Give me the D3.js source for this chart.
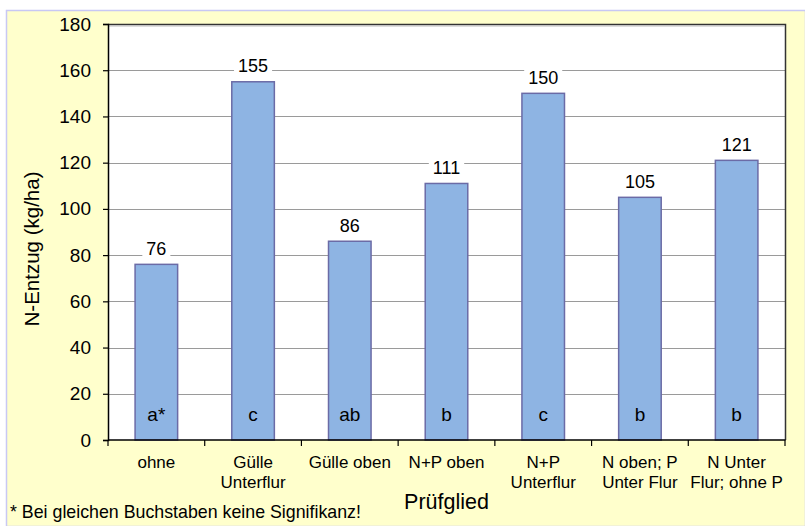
<!DOCTYPE html>
<html>
<head>
<meta charset="utf-8">
<script src="https://cdn.jsdelivr.net/npm/d3@7"></script>
<style>
  html, body { margin: 0; padding: 0; background: #ffffff; }
  svg { display: block; }
  text { font-family: "Liberation Sans", Arial, sans-serif; fill: #000; }
</style>
</head>
<body>
<svg id="chart" width="805" height="526"></svg>
<script>
// ---- data ----
const categories = ["ohne", "Gülle\nUnterflur", "Gülle oben", "N+P oben", "N+P\nUnterflur", "N oben; P\nUnter Flur", "N Unter\nFlur; ohne P"];
const values = [76, 155, 86, 111, 150, 105, 121];
const letters = ["a*", "c", "ab", "b", "c", "b", "b"];
const yTicks = [0, 20, 40, 60, 80, 100, 120, 140, 160, 180];
const yTitle = "N-Entzug (kg/ha)";
const xTitle = "Prüfglied";
const footnote = "* Bei gleichen Buchstaben keine Signifikanz!";

// ---- layout ----
const W = 805, H = 526;
const plot = { left: 108, top: 24, right: 785, bottom: 440 };
const svg = d3.select("#chart");

// chart area background
svg.append("rect")
  .attr("x", 6.5).attr("y", 10.5)
  .attr("width", W - 6).attr("height", H - 10)
  .attr("fill", "#FFFFCC")
  .attr("stroke", "#C8C8F4").attr("stroke-width", 1.5);

const x = d3.scaleBand()
  .domain(categories)
  .range([plot.left, plot.right])
  .paddingInner(0.56)
  .paddingOuter(0.28);

const y = d3.scaleLinear()
  .domain([0, 180])
  .range([plot.bottom, plot.top]);

// plot area
svg.append("rect")
  .attr("x", plot.left).attr("y", plot.top)
  .attr("width", plot.right - plot.left).attr("height", plot.bottom - plot.top)
  .attr("fill", "#ffffff");

// gridlines
svg.append("g")
  .selectAll("line")
  .data(yTicks.filter(d => d > 0 && d < 180))
  .join("line")
  .attr("x1", plot.left).attr("x2", plot.right)
  .attr("y1", d => Math.round(y(d)) + 0.5).attr("y2", d => Math.round(y(d)) + 0.5)
  .attr("stroke", "#9a9a9a").attr("stroke-width", 1.2);

// plot border top & right (shadowed)
svg.append("path")
  .attr("d", `M${plot.left},${plot.top + 0.5}H${plot.right + 0.5}V${plot.bottom}`)
  .attr("fill", "none").attr("stroke", "#333").attr("stroke-width", 1.5);
svg.append("path")
  .attr("d", `M${plot.left},${plot.top + 2}H${plot.right - 1}`)
  .attr("fill", "none").attr("stroke", "#bbb").attr("stroke-width", 1);

// bars
svg.append("g")
  .selectAll("rect")
  .data(values)
  .join("rect")
  .attr("x", (d, i) => x(categories[i]))
  .attr("y", d => y(d))
  .attr("width", x.bandwidth())
  .attr("height", d => y(0) - y(d))
  .attr("fill", "#8EB4E3")
  .attr("stroke", "#6B6BA6").attr("stroke-width", 1.5);

// value labels with white background
const vl = svg.append("g").selectAll("g")
  .data(values)
  .join("g")
  .attr("transform", (d, i) => `translate(${x(categories[i]) + x.bandwidth() / 2},${y(d) - 9.5})`);
vl.append("text")
  .attr("text-anchor", "middle")
  .attr("font-size", 18)
  .text(d => d)
  .each(function () {
    const bb = this.getBBox();
    d3.select(this.parentNode).insert("rect", "text")
      .attr("x", bb.x - 4).attr("y", bb.y - 1)
      .attr("width", bb.width + 8).attr("height", bb.height + 2)
      .attr("fill", "#ffffff");
  });

// significance letters
svg.append("g")
  .selectAll("text")
  .data(letters)
  .join("text")
  .attr("x", (d, i) => x(categories[i]) + x.bandwidth() / 2)
  .attr("y", y(0) - 19.5)
  .attr("text-anchor", "middle")
  .attr("font-size", 19)
  .text(d => d);

// y axis
const yAxis = svg.append("g")
  .attr("transform", `translate(${plot.left},0)`)
  .call(d3.axisLeft(y).tickValues(yTicks).tickSize(5).tickPadding(12));
yAxis.select(".domain").attr("stroke", "#000").attr("stroke-width", 1.5);
yAxis.selectAll(".tick line").attr("stroke", "#000").attr("stroke-width", 1.2);
yAxis.selectAll(".tick text")
  .attr("font-size", 19)
  .attr("font-family", "Liberation Sans, Arial, sans-serif")
  .attr("fill", "#000");

// x axis (ticks at band boundaries)
const xb = svg.append("g");
xb.append("line")
  .attr("x1", plot.left).attr("x2", plot.right + 0.5)
  .attr("y1", plot.bottom).attr("y2", plot.bottom)
  .attr("stroke", "#000").attr("stroke-width", 1.5);
const bounds = categories.map((c, i) => x(c) - x.step() * x.paddingOuter()).concat([plot.right]);
xb.selectAll("line.tk")
  .data(bounds)
  .join("line").attr("class", "tk")
  .attr("x1", d => d).attr("x2", d => d)
  .attr("y1", plot.bottom).attr("y2", plot.bottom + 6)
  .attr("stroke", "#000").attr("stroke-width", 1.2);

// category labels
const cl = svg.append("g").selectAll("text")
  .data(categories)
  .join("text")
  .attr("text-anchor", "middle")
  .attr("font-size", 17)
  .attr("x", d => x(d) + x.bandwidth() / 2)
  .attr("y", 467.5);
cl.selectAll("tspan")
  .data(d => d.split("\n").map(s => ({ s, cx: x(d) + x.bandwidth() / 2 })))
  .join("tspan")
  .attr("x", d => d.cx)
  .attr("dy", (d, i) => i === 0 ? 0 : 20.5)
  .text(d => d.s);

// axis titles
svg.append("text")
  .attr("text-anchor", "middle")
  .attr("font-size", 21.5)
  .attr("x", (plot.left + plot.right) / 2)
  .attr("y", 509)
  .text(xTitle);

svg.append("text")
  .attr("text-anchor", "middle")
  .attr("font-size", 20.5)
  .attr("transform", `translate(39,${(plot.top + plot.bottom) / 2 + 17}) rotate(-90)`)
  .text(yTitle);

// footnote
svg.append("text")
  .attr("x", 10)
  .attr("y", 518)
  .attr("font-size", 17.8)
  .text(footnote);
</script>
</body>
</html>
